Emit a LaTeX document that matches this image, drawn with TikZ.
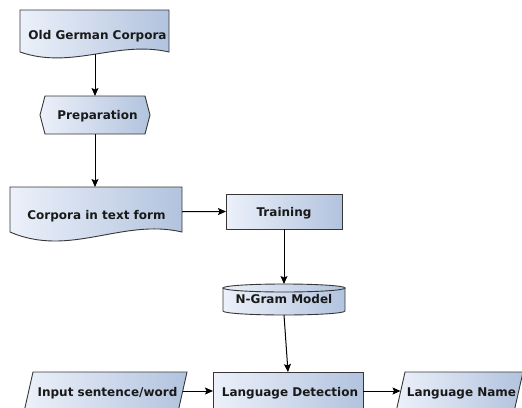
\documentclass[tikz,border=0pt]{standalone}
\usepackage{fontspec}
\setmainfont{DejaVu Sans}
\usetikzlibrary{arrows.meta,calc}
\definecolor{fillL}{RGB}{236,241,250}
\definecolor{fillR}{RGB}{178,195,222}
\definecolor{edge}{RGB}{55,55,55}
\tikzset{
  boxfill/.style={draw=edge, line width=0.9pt, left color=fillL, right color=fillR},
  anchorbox/.style={draw=none, inner sep=0pt, outer sep=0pt},
  txt/.style={font=\bfseries\fontsize{12}{14}\selectfont, inner sep=0pt, anchor=base, text=black!90},
  conn/.style={draw=black, line width=1pt, -{Stealth[length=8pt,width=7pt,inset=1.5pt]}}
}
\begin{document}
\begin{tikzpicture}[x=1pt,y=-1pt]
\useasboundingbox (0,0) rectangle (522,407);
\clip (0,0) rectangle (522,407);
\fill[white] (0,0) rectangle (522,407);

% anchor boxes (named nodes)
\node[anchorbox, minimum width=149, minimum height=44] (ogc) at (94.5,32) {};
\node[anchorbox, minimum width=110, minimum height=38] (prep) at (95,115) {};
\node[anchorbox, minimum width=172, minimum height=49.5] (cit) at (96,211.75) {};
\node[anchorbox, minimum width=116, minimum height=35] (train) at (284,211.5) {};
\node[anchorbox, minimum width=122, minimum height=31] (cyl) at (284,299.5) {};
\node[anchorbox, minimum width=150, minimum height=38] (ld) at (288,391) {};
\node[anchorbox, minimum width=154, minimum height=38] (isw) at (105.5,391) {};
\node[anchorbox, minimum width=118, minimum height=38] (ln) at (459.5,391) {};

% shapes
\path[boxfill] (20,10) -- (169,10) -- (169,52) .. controls (117,40) and (72,70) .. (20,52) -- cycle;
\path[boxfill] (40,115) -- (45,96) -- (145,96) -- (150,115) -- (145,134) -- (45,134) -- cycle;
\path[boxfill] (10,187) -- (182,187) -- (182,232) .. controls (122,218) and (70,258) .. (10,232) -- cycle;
\path[boxfill] (226,194) rectangle (342,229);
\path[boxfill] (223,288) -- (223,311) .. controls (223,313.2) and (250.3,315) .. (284,315)
   .. controls (317.7,315) and (345,313.2) .. (345,311) -- (345,288) -- cycle;
\path[boxfill] (284,288) ellipse [x radius=61, y radius=4];
\path[boxfill] (213,372) rectangle (363,412);
\path[boxfill] (33,372) -- (187,372) -- (178,412) -- (24,412) -- cycle;
\path[boxfill] (405,372) -- (523,372) -- (514,412) -- (396,412) -- cycle;

% texts
\node[txt] (ogc-t) at (97.5,39) {Old German Corpora};
\node[txt] (prep-t) at (97.5,119) {Preparation};
\node[txt] (cit-t) at (96.5,219) {Corpora in text form};
\node[txt] (train-t) at (284,216) {Training};
\node[txt] (cyl-t) at (284,303) {N-Gram Model};
\node[txt] (ld-t) at (290,396) {Language Detection};
\node[txt] (isw-t) at (107.5,396) {Input sentence/word};
\node[txt] (ln-t) at (461.5,396) {Language Name};

% connectors
\draw[conn] (ogc.south -| prep.north) -- (prep.north);
\draw[conn] (prep.south) -- (prep.south |- cit.north);
\draw[conn] (cit.east) -- (train.west);
\draw[conn] (train.south) -- (cyl.north);
\draw[conn] (cyl.south) -- (ld.north);
\draw[conn] (isw.east) -- (ld.west);
\draw[conn] (ld.east) -- (ln.west);
\end{tikzpicture}
\end{document}
